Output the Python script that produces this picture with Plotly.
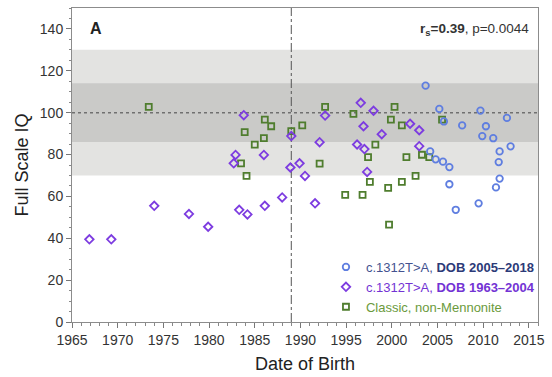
import plotly.graph_objects as go

# c.1312T>A, DOB 2005–2018
dob_recent = [2003.7, 2005.2, 2005.7, 2007.7, 2009.7, 2010.3, 2012.6, 2009.9, 2011.1, 2013.0,
              2011.8, 2011.7, 2011.8, 2011.4, 2004.2, 2004.8, 2005.6, 2006.3, 2006.3, 2007.0, 2009.5]
iq_recent = [112.9, 101.8, 95.8, 93.9, 101.0, 93.5, 97.5, 88.8, 87.8, 83.9,
             81.5, 76.4, 68.5, 64.3, 81.5, 77.7, 76.6, 74.0, 65.8, 53.6, 56.7]

# c.1312T>A, DOB 1963–2004
dob_early = [1966.9, 1969.3, 1974.0, 1977.8, 1979.9, 1983.3, 1984.2, 1986.1, 1988.0, 1983.8,
             1982.9, 1982.7, 1986.0, 1989.0, 1988.9, 1989.9, 1990.5, 1992.7, 1996.6, 1998.0,
             1996.9, 1998.9, 2002.0, 2003.0, 1996.2, 1997.0, 2003.0, 1992.1, 1997.3, 1991.6]
iq_early = [39.5, 39.5, 55.5, 51.6, 45.5, 53.6, 51.4, 55.5, 59.5, 98.8,
            79.8, 75.8, 79.8, 88.8, 73.8, 75.8, 69.8, 98.6, 104.7, 100.9,
            93.5, 89.7, 94.7, 91.6, 84.8, 82.6, 84.0, 85.9, 71.7, 56.7]

# Classic, non-Mennonite
dob_classic = [1973.4, 1983.9, 1986.1, 1986.8, 1986.0, 1985.0, 1983.5, 1984.1, 1989.0, 1990.2,
               1992.7, 1995.8, 2000.3, 1999.9, 2001.1, 2005.5, 1998.2, 1992.1, 1997.4, 2001.6,
               2003.3, 2004.1, 1997.6, 1999.6, 2001.1, 2002.6, 1994.9, 1996.8, 1999.7]
iq_classic = [102.8, 90.7, 96.7, 93.5, 87.8, 84.7, 75.8, 69.8, 91.2, 93.9,
              102.8, 99.4, 102.8, 96.7, 93.9, 96.7, 84.7, 75.7, 78.8, 78.8,
              79.9, 78.8, 66.9, 64.1, 66.9, 69.8, 60.7, 60.7, 46.5]

# reference ranges and cut-off date
band_outer = (70, 130)
band_inner = (86, 114)
iq_mean = 100
cutoff_dob = 1989.0

FONT = "Liberation Sans, Arial, Helvetica, sans-serif"
BLUE = "#5f7ee0"
PURPLE = "#7d3ce0"
GREEN = "#4f7d2e"

fig = go.Figure()

fig.add_trace(go.Scatter(
    x=dob_classic, y=iq_classic, mode="markers",
    name="<span style='color:#6b9a3c'>Classic, non-Mennonite</span>",
    marker=dict(symbol="square-open", size=6, color=GREEN, line=dict(width=1.8)),
    legendrank=3,
))
fig.add_trace(go.Scatter(
    x=dob_early, y=iq_early, mode="markers",
    name="<span style='color:#7333d4'>c.1312T&gt;A, <b>DOB 1963–2004</b></span>",
    marker=dict(symbol="diamond-open", size=6.5, color=PURPLE, line=dict(width=1.8)),
    legendrank=2,
))
fig.add_trace(go.Scatter(
    x=dob_recent, y=iq_recent, mode="markers",
    name="<span style='color:#44528f'>c.1312T&gt;A, <b style='color:#2c3a78'>DOB 2005–2018</b></span>",
    marker=dict(symbol="circle-open", size=6.5, color=BLUE, line=dict(width=1.8)),
    legendrank=1,
))

shapes = [
    dict(type="rect", xref="paper", x0=0, x1=1, yref="y", y0=band_outer[0], y1=band_outer[1],
         fillcolor="#e3e3e1", line_width=0, layer="below"),
    dict(type="rect", xref="paper", x0=0, x1=1, yref="y", y0=band_inner[0], y1=band_inner[1],
         fillcolor="#cacac8", line_width=0, layer="below"),
    dict(type="line", xref="paper", x0=0, x1=1, yref="y", y0=iq_mean, y1=iq_mean,
         line=dict(color="#707070", width=1.5, dash="dot"), layer="below"),
    dict(type="line", xref="x", x0=cutoff_dob, x1=cutoff_dob, yref="paper", y0=0, y1=1,
         line=dict(color="#555555", width=1, dash="dashdot"), layer="below"),
]

annotations = [
    dict(text="<b>A</b>", xref="paper", yref="paper", x=0.051, y=0.936,
         xanchor="center", yanchor="middle", showarrow=False,
         font=dict(family=FONT, size=16, color="#222222")),
    dict(text="<b>r<sub>s</sub>=0.39</b>, p=0.0044", xref="paper", yref="paper",
         x=0.985, y=0.93, xanchor="right", yanchor="middle", showarrow=False,
         font=dict(family=FONT, size=13.5, color="#333333")),
]

axis_common = dict(
    showline=True, linecolor="#8c8c8c", linewidth=1, mirror=True,
    showgrid=False, zeroline=False,
    ticks="outside", ticklen=5, tickcolor="#777777", tickwidth=1,
    tickfont=dict(family=FONT, size=14, color="#333333"),
)

fig.update_layout(
    width=552, height=377,
    margin=dict(l=72, r=7, t=8, b=53),
    paper_bgcolor="white", plot_bgcolor="white",
    font=dict(family=FONT),
    shapes=shapes, annotations=annotations,
    showlegend=True,
    legend=dict(x=0.545, y=0.0, xanchor="left", yanchor="bottom",
                bgcolor="rgba(0,0,0,0)", font=dict(family=FONT, size=13),
                tracegroupgap=0, itemwidth=30),
    xaxis=dict(axis_common, range=[1965, 2016], tick0=1965, dtick=5,
               minor=dict(dtick=1, ticklen=2.5, tickcolor="#888888", ticks="outside"),
               title=dict(text="Date of Birth", standoff=10,
                          font=dict(family=FONT, size=18, color="#222222"))),
    yaxis=dict(axis_common, range=[0, 150], tick0=0, dtick=20,
               minor=dict(dtick=5, ticklen=2.5, tickcolor="#888888", ticks="outside"),
               title=dict(text="Full Scale IQ", standoff=6,
                          font=dict(family=FONT, size=18, color="#222222"))),
)

fig.write_html("out.html")
